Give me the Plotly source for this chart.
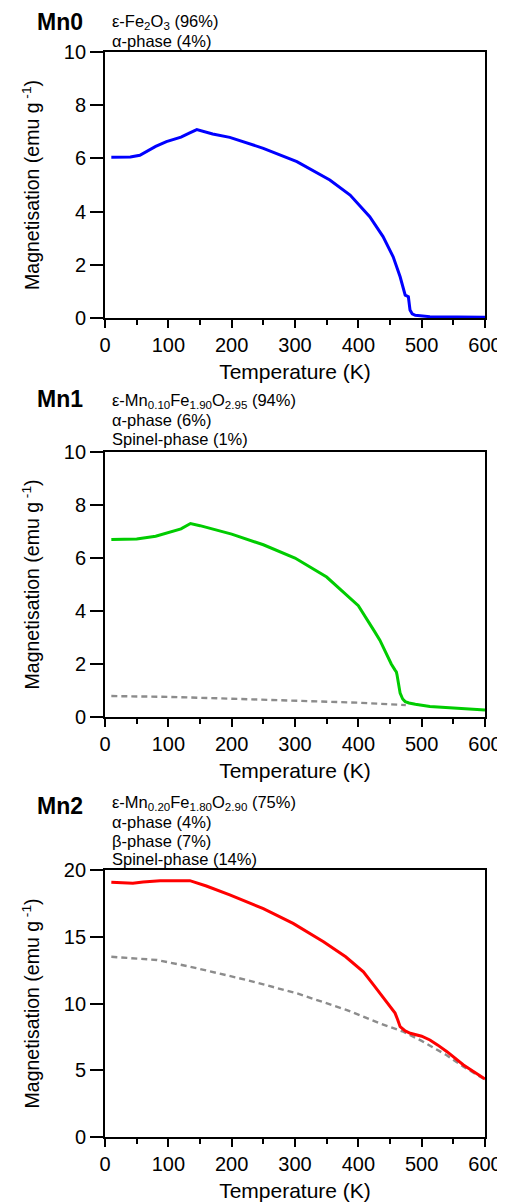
import plotly.graph_objects as go

# ---- data ----
mn0_T = [10, 40, 55, 65, 80, 97, 110, 120, 133, 145, 170, 197, 250, 303, 355, 387, 418, 439, 455, 466, 474, 479, 481.6, 485, 490, 513, 600]
mn0_M = [6.04, 6.05, 6.12, 6.25, 6.45, 6.63, 6.72, 6.8, 6.95, 7.08, 6.92, 6.79, 6.38, 5.88, 5.19, 4.62, 3.81, 3.06, 2.30, 1.55, 0.86, 0.80, 0.30, 0.16, 0.10, 0.05, 0.03]

mn1_T = [10, 50, 80, 100, 120, 135, 150, 200, 250, 300, 350, 400, 415, 425, 434, 445, 452, 458, 460, 461, 463, 466, 470, 474, 480, 490, 513, 550, 600]
mn1_M = [6.7, 6.72, 6.82, 6.95, 7.1, 7.3, 7.22, 6.9, 6.5, 6.0, 5.28, 4.2, 3.65, 3.25, 2.9, 2.35, 2.0, 1.77, 1.7, 1.6, 1.25, 0.9, 0.68, 0.58, 0.53, 0.48, 0.40, 0.35, 0.26]
mn1_ref_T = [10, 100, 200, 300, 400, 475]
mn1_ref_M = [0.79, 0.76, 0.69, 0.62, 0.54, 0.45]

mn2_T = [10, 30, 44, 60, 87, 134, 160, 197, 250, 297, 345, 380, 408, 424, 439, 450, 458, 462, 466, 474, 482, 500, 513, 525, 540, 566, 598, 600]
mn2_M = [19.08, 19.02, 19.0, 19.1, 19.2, 19.2, 18.8, 18.13, 17.1, 16.0, 14.63, 13.5, 12.38, 11.4, 10.5, 9.8, 9.28, 8.8, 8.26, 7.95, 7.77, 7.55, 7.27, 6.9, 6.39, 5.39, 4.4, 4.35]
mn2_ref_T = [10, 82, 134, 224, 303, 382, 434, 471, 500, 539, 566, 600]
mn2_ref_M = [13.5, 13.26, 12.76, 11.76, 10.76, 9.51, 8.51, 7.89, 7.2, 6.14, 5.27, 4.3]

x_ticks = [0, 100, 200, 300, 400, 500, 600]
labels = ["Mn0", "Mn1", "Mn2"]
phase_text = [
    ["ε-Fe<sub>2</sub>O<sub>3</sub> (96%)", "α-phase (4%)"],
    ["ε-Mn<sub>0.10</sub>Fe<sub>1.90</sub>O<sub>2.95</sub> (94%)", "α-phase (6%)", "Spinel-phase (1%)"],
    ["ε-Mn<sub>0.20</sub>Fe<sub>1.80</sub>O<sub>2.90</sub> (75%)", "α-phase (4%)", "β-phase (7%)", "Spinel-phase (14%)"],
]
y_max = [10, 10, 20]
y_dtick = [2, 2, 5]

# page body has an 8px margin: compensate so the picture lands where intended
OFF = 8
H = 1202
W = 505
L = 105 - OFF
PW = 380
R = W - L - PW
FONT = "Arial, Liberation Sans, sans-serif"

# pixel layout of panels in the window (top, bottom)
panels_px = [(52, 318), (452, 717), (870, 1137)]
label_y_px = [22, 399, 806]
text_y_px = [22, 401, 803]
line_gap = 18.8

fig = go.Figure()

series = [
    (mn0_T, mn0_M, "#0000ff", None, None),
    (mn1_T, mn1_M, "#00cc00", mn1_ref_T, mn1_ref_M),
    (mn2_T, mn2_M, "#ff0000", mn2_ref_T, mn2_ref_M),
]

for i, (T, M, col, rT, rM) in enumerate(series):
    xa = "x" if i == 0 else f"x{i+1}"
    ya = "y" if i == 0 else f"y{i+1}"
    if rT is not None:
        fig.add_trace(go.Scatter(x=rT, y=rM, mode="lines", xaxis=xa, yaxis=ya,
                                 line=dict(color="#8c8c8c", width=2.4, dash="6px,4px"),
                                 showlegend=False))
    fig.add_trace(go.Scatter(x=T, y=M, mode="lines", xaxis=xa, yaxis=ya,
                             line=dict(color=col, width=3),
                             showlegend=False))

    top, bot = panels_px[i]
    dom = [1 - (bot - OFF) / H, 1 - (top - OFF) / H]
    axis_common = dict(showline=True, linecolor="black", linewidth=1.8, mirror=True,
                       ticks="outside", tickcolor="black", tickwidth=1.8,
                       showgrid=False, zeroline=False, automargin=False,
                       tickfont=dict(family=FONT, size=20, color="black"))
    xkey = "xaxis" if i == 0 else f"xaxis{i+1}"
    ykey = "yaxis" if i == 0 else f"yaxis{i+1}"
    fig.layout[xkey] = dict(domain=[0, 1], anchor=ya, range=[0, 600],
                            tickvals=x_ticks, ticklen=8,
                            minor=dict(dtick=50, ticks="outside", ticklen=5, tickcolor="black", tickwidth=1.8),
                            title=dict(text="Temperature (K)", font=dict(family=FONT, size=21, color="black"), standoff=9),
                            **axis_common)
    fig.layout[ykey] = dict(domain=dom, anchor=xa, range=[0, y_max[i]],
                            dtick=y_dtick[i], tick0=0, ticklen=13,
                            title=dict(text="Magnetisation (emu g<sup> -1</sup>)", font=dict(family=FONT, size=19.5, color="black"), standoff=19),
                            **axis_common)

for i in range(3):
    fig.add_annotation(text=f"<b>{labels[i]}</b>", xref="paper", yref="paper",
                       x=(35 - OFF - L) / PW, y=1 - (label_y_px[i] - OFF) / H, xanchor="left", yanchor="middle",
                       showarrow=False, font=dict(family=FONT, size=23, color="black"))
    for j, line in enumerate(phase_text[i]):
        fig.add_annotation(text=line, xref="paper", yref="paper",
                           x=(110 - OFF - L) / PW, y=1 - (text_y_px[i] - OFF + j * line_gap) / H,
                           xanchor="left", yanchor="middle", showarrow=False,
                           font=dict(family=FONT, size=16.5, color="black"))

fig.update_layout(width=W, height=H, margin=dict(l=L, r=R, t=0, b=0, autoexpand=False),
                  plot_bgcolor="white", paper_bgcolor="white",
                  font=dict(family=FONT, color="black"))

fig.write_html("out.html")
